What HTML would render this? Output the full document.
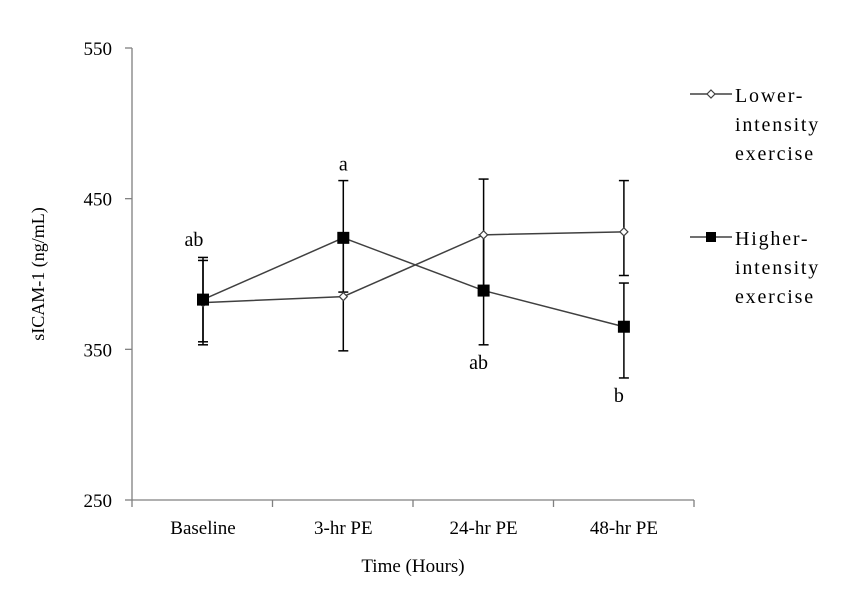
<!DOCTYPE html>
<html><head><meta charset="utf-8"><style>
html,body{margin:0;padding:0;background:#fff;}
svg{display:block;font-family:"Liberation Serif",serif;}
</style></head><body>
<svg id="chart" width="842" height="594" viewBox="0 0 842 594" xmlns="http://www.w3.org/2000/svg">
<g id="axes"></g>
<g id="marks"></g>
<text transform="translate(44,274) rotate(-90)" text-anchor="middle" font-size="18">sICAM-1 (ng/mL)</text>
<text x="413" y="572" text-anchor="middle" font-size="19">Time  (Hours)</text>
<g>
<g>
<line x1="690" y1="94" x2="732" y2="94" stroke="#404040" stroke-width="1.5"/>
<path d="M711 90 L715 94 L711 98 L707 94 Z" fill="#fff" stroke="#404040" stroke-width="1.2"/>
<text x="735" y="102" font-size="20" letter-spacing="1.8">Lower-</text>
<text x="735" y="131" font-size="20" letter-spacing="1.8">intensity</text>
<text x="735" y="160" font-size="20" letter-spacing="1.8">exercise</text>
</g>
<g>
<line x1="690" y1="237" x2="732" y2="237" stroke="#404040" stroke-width="1.5"/>
<rect x="706" y="232" width="10" height="10" fill="#000"/>
<text x="735" y="245" font-size="20" letter-spacing="1.8">Higher-</text>
<text x="735" y="274" font-size="20" letter-spacing="1.8">intensity</text>
<text x="735" y="303" font-size="20" letter-spacing="1.8">exercise</text>
</g>
</g>
</svg>
<script>
const categories = ["Baseline","3-hr PE","24-hr PE","48-hr PE"];
const lowerValues = [381, 385, 426, 428];
const lowerErrUp = [28, 36, 37, 34];
const lowerErrDown = [28, 36, 37, 29];
const higherValues = [383, 424, 389, 365];
const higherErrUp = [28, 38, 37, 29];
const higherErrDown = [28, 36, 36, 34];
const yTicks = [250, 350, 450, 550];
const sigLabels = ["ab","a","ab","b"];
const sigPos = [412, 462, 353, 331];
const sigAbove = [true, true, false, false];

const NS="http://www.w3.org/2000/svg";
const y0=500,y1=48,vmin=250,vmax=550;
function yS(v){return y0-(v-vmin)/(vmax-vmin)*(y0-y1);}
function xS(i){return 203+i*140.3;}
function mk(tag,attrs,parent){const e=document.createElementNS(NS,tag);for(const k in attrs)e.setAttribute(k,attrs[k]);parent.appendChild(e);return e;}
const axes=document.getElementById('axes'),marks=document.getElementById('marks');
let l=mk('line',{x1:132,y1:y1,x2:132,y2:y0,stroke:'#808080','stroke-width':1.3},axes);


l=mk('line',{x1:132,y1:y0,x2:694,y2:y0,stroke:'#808080','stroke-width':1.3},axes);


yTicks.forEach(t=>{
 const tk=mk('line',{x1:125,y1:yS(t),x2:132,y2:yS(t),stroke:'#808080','stroke-width':1.3},axes);
 
 
 const tx=mk('text',{x:112,y:yS(t)+7,'text-anchor':'end','font-size':19},axes);tx.textContent=t;
 
 
});
for(let i=0;i<=categories.length;i++){
 const tk=mk('line',{x1:132+i*140.5,y1:y0,x2:132+i*140.5,y2:y0+7,stroke:'#808080','stroke-width':1.3},axes);
 
 
}
categories.forEach((c,i)=>{
 const tx=mk('text',{x:xS(i),y:534,'text-anchor':'middle','font-size':19},axes);tx.textContent=c;
 
 
});
function errs(vals,up,dn,name){
 vals.forEach((v,i)=>{
  const x=xS(i);
  const g=mk('g',{stroke:'#000','stroke-width':1.5},marks);
  
  
  mk('line',{x1:x,y1:yS(v+up[i]),x2:x,y2:yS(v-dn[i])},g);
  mk('line',{x1:x-5,y1:yS(v+up[i]),x2:x+5,y2:yS(v+up[i])},g);
  mk('line',{x1:x-5,y1:yS(v-dn[i]),x2:x+5,y2:yS(v-dn[i])},g);
 });
}
errs(lowerValues,lowerErrUp,lowerErrDown,'lower');
errs(higherValues,higherErrUp,higherErrDown,'higher');
function line(vals,name){
 const p=mk('polyline',{points:vals.map((v,i)=>xS(i)+','+yS(v)).join(' '),fill:'none',stroke:'#404040','stroke-width':1.5},marks);
 
 
}
line(lowerValues,'lower');line(higherValues,'higher');
lowerValues.forEach((v,i)=>{
 const x=xS(i),y=yS(v);
 const p=mk('path',{d:`M${x} ${y-4}L${x+4} ${y}L${x} ${y+4}L${x-4} ${y}Z`,fill:'#fff',stroke:'#404040','stroke-width':1.2},marks);
 
 
});
higherValues.forEach((v,i)=>{
 const x=xS(i),y=yS(v);
 const r=mk('rect',{x:x-6,y:y-6,width:12,height:12,fill:'#000'},marks);
 
 
});
sigLabels.forEach((s,i)=>{
 const y=yS(sigPos[i])+(sigAbove[i]?-10:24);
 const t=mk('text',{x:xS(i)-(i==0?9:(i==1?0:5)),y:y,'text-anchor':'middle','font-size':20},marks);
 t.textContent=s;
 
 
});
</script>
</body></html>
